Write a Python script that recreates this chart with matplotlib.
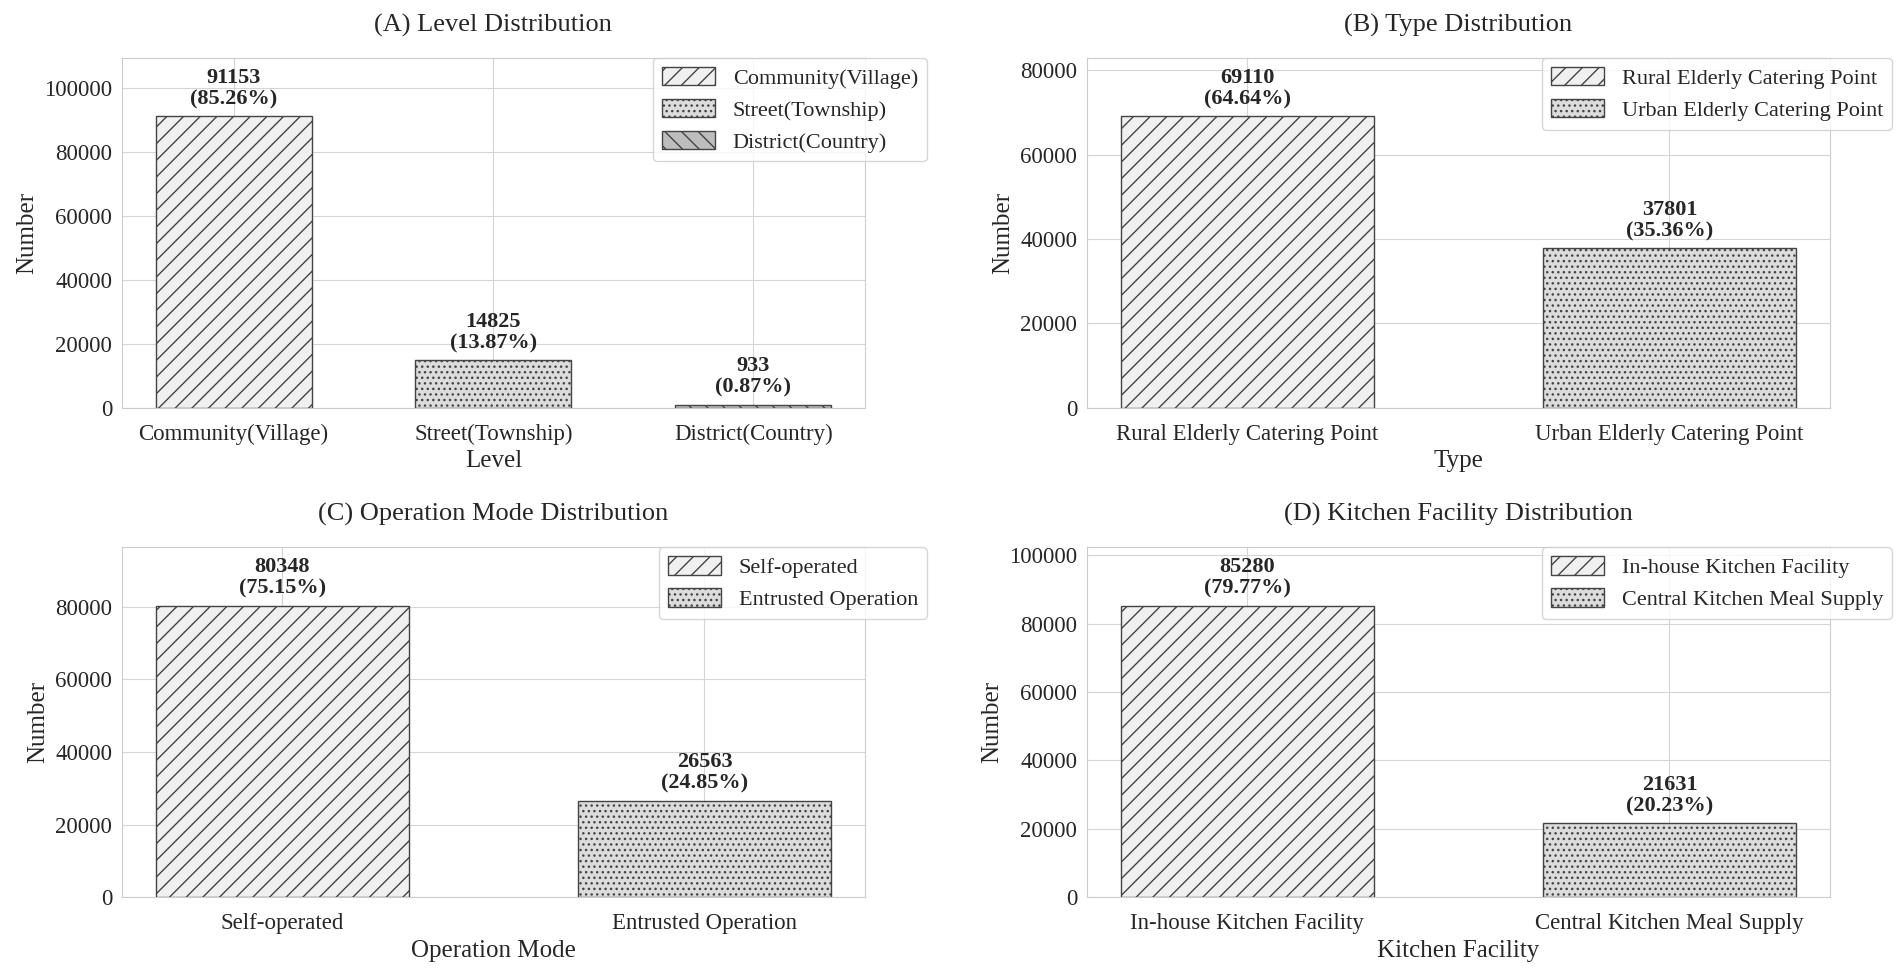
import matplotlib
matplotlib.use("Agg")
import matplotlib.pyplot as plt
import seaborn as sns

# ---- data ----
level_cats = ["Community(Village)", "Street(Township)", "District(Country)"]
level_vals = [91153, 14825, 933]
level_pct = [85.26, 13.87, 0.87]

type_cats = ["Rural Elderly Catering Point", "Urban Elderly Catering Point"]
type_vals = [69110, 37801]
type_pct = [64.64, 35.36]

mode_cats = ["Self-operated", "Entrusted Operation"]
mode_vals = [80348, 26563]
mode_pct = [75.15, 24.85]

kitchen_cats = ["In-house Kitchen Facility", "Central Kitchen Meal Supply"]
kitchen_vals = [85280, 21631]
kitchen_pct = [79.77, 20.23]

titles = ["(A) Level Distribution", "(B) Type Distribution",
          "(C) Operation Mode Distribution", "(D) Kitchen Facility Distribution"]
xlabels = ["Level", "Type", "Operation Mode", "Kitchen Facility"]

hatches = ["//", "...", "\\\\"]
faces = ["#f0f0f0", "#dcdcdc", "#bdbdbd"]

sns.set_style("whitegrid")
plt.rcParams['font.family'] = ['Liberation Serif', 'DejaVu Serif']
plt.rcParams['hatch.linewidth'] = 1.0
plt.rcParams['hatch.color'] = '#222222'
plt.rcParams['axes.edgecolor'] = '#cccccc'
plt.rcParams['grid.color'] = '#d5d5d5'

fig, axes = plt.subplots(2, 2, figsize=(19.02, 9.68), dpi=100)
fig.subplots_adjust(left=0.0641, right=0.9621, top=0.9401, bottom=0.0733,
                    hspace=0.40, wspace=0.2988)

panels = [
    (level_cats, level_vals, level_pct),
    (type_cats, type_vals, type_pct),
    (mode_cats, mode_vals, mode_pct),
    (kitchen_cats, kitchen_vals, kitchen_pct),
]

for ax, (cats, vals, pct), title, xl in zip(axes.flat, panels, titles, xlabels):
    x = list(range(len(cats)))
    bars = ax.bar(x, vals, width=0.6,
                  color=faces[:len(cats)], edgecolor="#444444", linewidth=1.0)
    for b, h in zip(bars, hatches):
        b.set_hatch(h)
    for b, lab in zip(bars, cats):
        b.set_label(lab)
    for xi, v, p in zip(x, vals, pct):
        ax.annotate(f"{v}\n({p:.2f}%)", xy=(xi, v), xytext=(0, 5),
                    textcoords="offset points", ha="center", va="bottom",
                    fontsize=16, fontweight="bold", linespacing=1.1)
    ax.set_ylim(0, max(vals) * 1.2)
    ax.set_xticks(x)
    ax.set_xticklabels(cats, fontsize=16.5)
    ax.tick_params(axis='y', labelsize=16.5)
    ax.tick_params(axis='x', pad=8)
    ax.set_title(title, fontsize=19, pad=19)
    ax.set_xlabel(xl, fontsize=18)
    ax.set_ylabel("Number", fontsize=18)
    ax.legend(loc="upper right", bbox_to_anchor=(1.0834, 1.0), borderaxespad=0,
              fontsize=16, frameon=True, handlelength=2.4, handleheight=0.9,
              labelspacing=0.45)

fig.savefig("out.png", dpi=100)
